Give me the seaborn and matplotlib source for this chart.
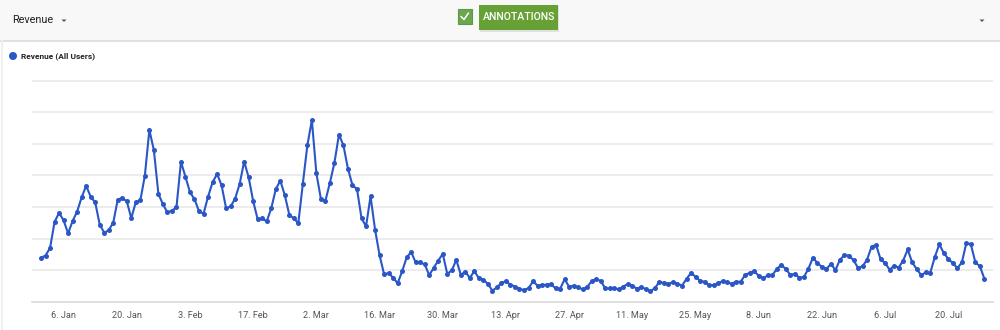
import numpy as np
import pandas as pd
import matplotlib
matplotlib.use("Agg")
import matplotlib.pyplot as plt
from matplotlib.patches import Rectangle, Polygon, Ellipse
from matplotlib.lines import Line2D
import seaborn as sns

# ---------------- data ----------------
start_date = "2020-01-01"
revenue = [
    1.40, 1.47, 1.71, 2.53, 2.82, 2.58, 2.17, 2.56, 2.86, 3.31,
    3.67, 3.33, 3.15, 2.45, 2.19, 2.27, 2.51, 3.24, 3.29, 3.18,
    2.65, 3.16, 3.21, 3.99, 5.44, 4.80, 3.42, 3.09, 2.83, 2.89,
    2.99, 4.43, 3.96, 3.47, 3.25, 2.87, 2.79, 3.33, 3.78, 4.05,
    3.69, 2.96, 3.02, 3.27, 3.73, 4.44, 3.94,
    3.19, 2.61, 2.64, 2.55, 2.96, 3.56, 3.84, 3.38, 2.76, 2.64,
    2.49, 3.74, 4.95, 5.75, 4.07, 3.26, 3.20, 3.77, 4.40, 5.29,
    4.95, 4.21, 3.69, 3.57, 2.65, 2.39, 3.34, 2.29, 1.48, 0.88,
    0.91, 0.77, 0.59, 0.97, 1.41, 1.58, 1.25, 1.25, 1.19, 0.85,
    1.08, 1.31, 1.52, 0.89, 1.00, 1.33, 0.86, 0.96, 0.76, 0.98, 0.75,
    0.71, 0.57, 0.36, 0.46, 0.61, 0.65, 0.55, 0.49, 0.42, 0.37,
    0.44, 0.65, 0.52, 0.53, 0.55, 0.56, 0.43, 0.42, 0.72, 0.48,
    0.52, 0.46, 0.40, 0.48, 0.66, 0.73, 0.66, 0.43, 0.43, 0.43,
    0.40, 0.49, 0.57, 0.52, 0.42, 0.48, 0.40, 0.34, 0.44, 0.64,
    0.60, 0.57, 0.63, 0.58, 0.52, 0.73, 0.92, 0.80, 0.67, 0.64,
    0.53, 0.53, 0.59,
    0.66, 0.62, 0.58, 0.64, 0.64, 0.86, 0.92, 0.97, 0.83, 0.75,
    0.84, 0.85, 1.04, 1.18, 1.04, 0.86, 0.89, 0.77, 0.79, 1.05,
    1.40, 1.23, 1.11, 1.05, 1.20, 1.01, 1.34, 1.48, 1.47, 1.32,
    1.08, 1.13, 1.34, 1.75, 1.80, 1.35, 1.23, 1.02, 1.15, 1.09,
    1.31, 1.66, 1.25, 1.04, 0.85, 0.94, 0.92, 1.42, 1.82, 1.55,
    1.36, 1.23, 1.07, 1.25, 1.87, 1.82, 1.25, 1.13, 0.73,
]
tick_dates = ["2020-01-06", "2020-01-20", "2020-02-03", "2020-02-17", "2020-03-02",
              "2020-03-16", "2020-03-30", "2020-04-13", "2020-04-27", "2020-05-11",
              "2020-05-25", "2020-06-08", "2020-06-22", "2020-07-06", "2020-07-20"]
metric_label = "Revenue"
series_label = "Revenue (All Users)"
button_label = "ANNOTATIONS"

dates = pd.date_range(start_date, periods=len(revenue), freq="D")
df = pd.DataFrame({"date": dates, "value": revenue})

# ---------------- figure ----------------
sns.set_style("white")
plt.rcParams["font.family"] = ["Roboto", "DejaVu Sans"]

W, H = 1000, 330
fig = plt.figure(figsize=(W / 100, H / 100), dpi=100)
fig.patch.set_facecolor("white")

def fx(x):
    return x / W

def fy(y):
    return 1 - y / H

LINE = "#2a56c6"

# axes
ax = fig.add_axes([fx(32), fy(302), fx(993) - fx(32), fy(79) - fy(302)])
sns.lineplot(data=df, x="date", y="value", ax=ax, color=LINE, linewidth=1.5,
             marker="o", markersize=3.6, markeredgewidth=0, markerfacecolor=LINE)

ax.set_ylim(0, 7.05)
ax.set_yticks(range(0, 8))
ax.set_yticklabels([])
ax.tick_params(axis="y", length=0)
ax.grid(axis="y", color="#ebebeb", linewidth=1.3)
ax.set_axisbelow(True)

x0 = pd.Timestamp(start_date) - pd.Timedelta(days=2)
x1 = dates[-1] + pd.Timedelta(days=1.9)
ax.set_xlim(x0, x1)
ticks = pd.to_datetime(tick_dates)
ax.set_xticks(ticks)
ax.set_xticklabels([f"{d.day}. {d.strftime('%b')}" for d in ticks],
                   fontsize=6.6, color="#555555")
ax.tick_params(axis="x", direction="out", length=4, width=1, color="#dcdcdc", pad=2.5)
ax.set_xlabel("")
ax.set_ylabel("")
for s in ["top", "right", "left"]:
    ax.spines[s].set_visible(False)
ax.spines["bottom"].set_color("#dcdcdc")
ax.spines["bottom"].set_linewidth(1.2)
if ax.get_legend() is not None:
    ax.get_legend().remove()

# ---------------- header ----------------
fig.add_artist(Rectangle((0, fy(41)), 1, 1 - fy(41), transform=fig.transFigure,
                         facecolor="#f8f8f8", edgecolor="none", zorder=0))
fig.add_artist(Line2D([0, 1], [fy(41), fy(41)], transform=fig.transFigure,
                      color="#dcdcdc", linewidth=1.2))
fig.add_artist(Line2D([fx(2), fx(2)], [0, fy(41)], transform=fig.transFigure,
                      color="#f0f0f0", linewidth=1.5))
fig.text(fx(12), fy(20), metric_label, fontsize=7.8, color="#222222",
         va="center", ha="left")
fig.add_artist(Polygon([[fx(61.5), fy(19.5)], [fx(66.5), fy(19.5)], [fx(64), fy(22)]],
                       closed=True, transform=fig.transFigure,
                       facecolor="#555555", edgecolor="none"))
fig.add_artist(Polygon([[fx(979.5), fy(19.5)], [fx(984.5), fy(19.5)], [fx(982), fy(22)]],
                       closed=True, transform=fig.transFigure,
                       facecolor="#555555", edgecolor="none"))

# checkbox
fig.add_artist(Rectangle((fx(457.5), fy(24)), fx(14), fy(9.5) - fy(24),
                         transform=fig.transFigure, facecolor="#6aa84f",
                         edgecolor="#5e9a45", linewidth=0.8))
fig.add_artist(Line2D([fx(461), fx(464), fx(468.5)], [fy(16.5), fy(19.5), fy(13)],
                      transform=fig.transFigure, color="white", linewidth=1.1))
# button
fig.add_artist(Rectangle((fx(480), fy(31.5)), fx(79), fy(6) - fy(31.5),
                         transform=fig.transFigure, facecolor="#d0d0d0",
                         edgecolor="none", alpha=0.6))
fig.add_artist(Rectangle((fx(479), fy(30)), fx(79), fy(5) - fy(30),
                         transform=fig.transFigure, facecolor="#67a135",
                         edgecolor="none"))
fig.text(fx(519), fy(17.5), button_label, fontsize=7.6, color="white",
         va="center", ha="center", fontweight="medium")

# legend
fig.add_artist(Ellipse((fx(13), fy(56)), 8 / W, 8 / H, transform=fig.transFigure,
                       facecolor=LINE, edgecolor="none"))
fig.text(fx(21), fy(56), series_label, fontsize=6.0, color="#222222",
         va="center", ha="left", fontweight="bold")

fig.savefig("out.png", dpi=100, facecolor="white")
